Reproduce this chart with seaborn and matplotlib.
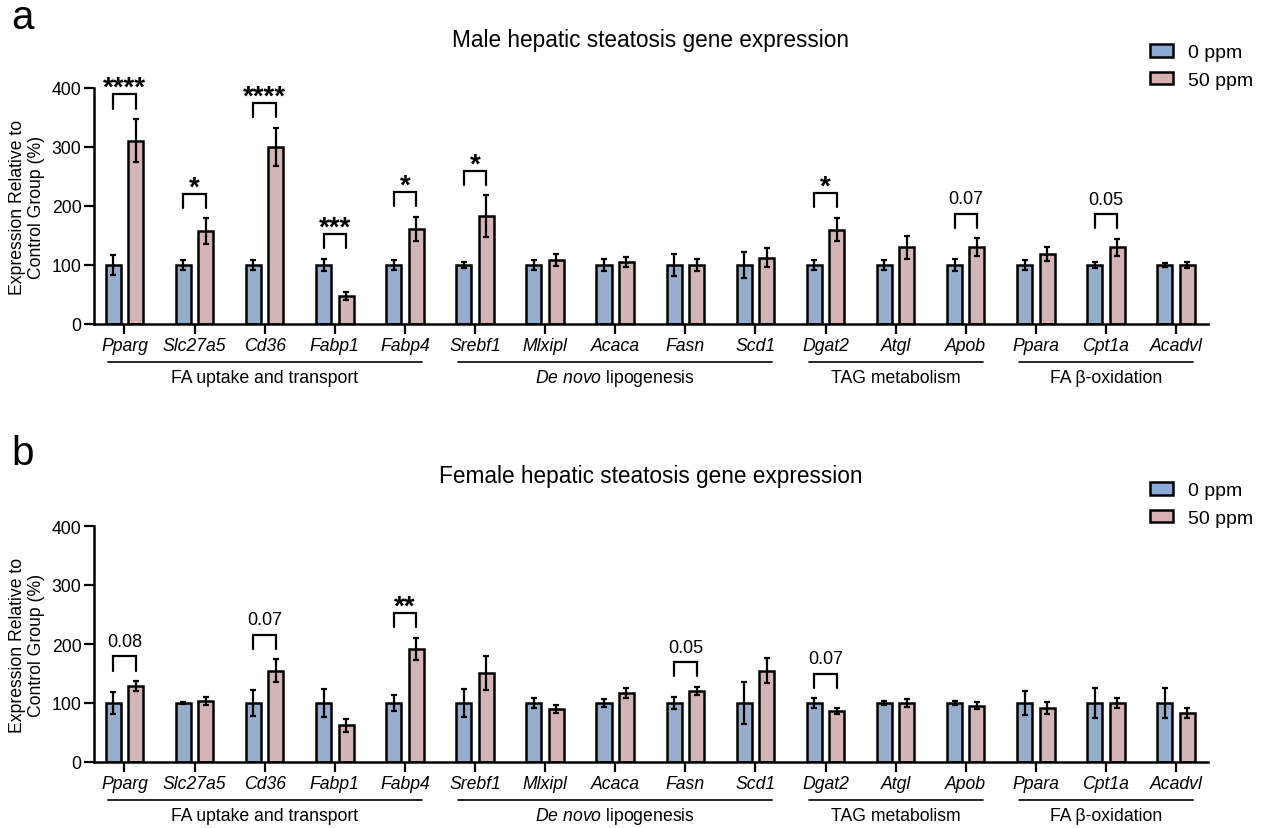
import numpy as np
import pandas as pd
import matplotlib
matplotlib.use("Agg")
import matplotlib.pyplot as plt
import matplotlib.transforms as mtransforms
from matplotlib.patches import Patch
import seaborn as sns

# Genes and pathway groups
genes = ['Pparg', 'Slc27a5', 'Cd36', 'Fabp1', 'Fabp4', 'Srebf1', 'Mlxipl', 'Acaca',
         'Fasn', 'Scd1', 'Dgat2', 'Atgl', 'Apob', 'Ppara', 'Cpt1a', 'Acadvl']
doses = ['0 ppm', '50 ppm']
group_names = ['FA uptake and transport', r'$\mathit{De\ novo}$ lipogenesis',
               'TAG metabolism', 'FA β-oxidation']
group_start = [0, 5, 10, 13]
group_end = [4, 9, 12, 15]

# Male (panel a), mean and SEM, % of control
male_ctrl = [100, 100, 100, 100, 100, 100, 100, 100, 100, 100, 100, 100, 100, 100, 100, 100]
male_ctrl_err = [17, 8, 9, 11, 9, 5, 8, 10, 18, 22, 9, 9, 10, 9, 5, 4]
male_trt = [311, 157, 300, 47, 161, 183, 108, 105, 100, 112, 160, 130, 130, 119, 130, 100]
male_trt_err = [36, 22, 33, 7, 21, 35, 10, 9, 10, 16, 20, 19, 15, 12, 14, 5]
male_sig_idx = [0, 1, 2, 3, 4, 5, 10, 12, 14]
male_sig_txt = ['****', '*', '****', '***', '*', '*', '*', '0.07', '0.05']

# Female (panel b)
female_ctrl = [100, 100, 100, 100, 100, 100, 100, 100, 100, 100, 100, 100, 100, 100, 100, 100]
female_ctrl_err = [19, 2, 22, 23, 13, 24, 9, 7, 10, 35, 8, 3, 4, 21, 25, 25]
female_trt = [129, 103, 155, 62, 192, 151, 90, 117, 120, 155, 86, 100, 95, 92, 100, 83]
female_trt_err = [8, 7, 19, 11, 19, 29, 7, 8, 7, 21, 5, 7, 6, 10, 9, 9]
female_sig_idx = [0, 2, 4, 8, 10]
female_sig_txt = ['0.08', '0.07', '**', '0.05', '0.07']

blue = '#8eabd5'
pink = '#d9b0b0'

sns.set_style('ticks')
plt.rcParams['font.family'] = ['Liberation Sans', 'DejaVu Sans']
plt.rcParams['mathtext.fontset'] = 'custom'
plt.rcParams['mathtext.rm'] = 'Liberation Sans'
plt.rcParams['mathtext.it'] = 'Liberation Sans:italic'
for key in ['text.color', 'axes.labelcolor', 'xtick.color', 'ytick.color', 'axes.edgecolor']:
    plt.rcParams[key] = 'black'

fig = plt.figure(figsize=(12.66, 8.29), dpi=100)
ax_a = fig.add_axes([94 / 1266, 1 - 325 / 829, 1114 / 1266, 236 / 829])
ax_b = fig.add_axes([94 / 1266, 1 - 763 / 829, 1114 / 1266, 236 / 829])


def draw_panel(ax, ctrl, ctrl_err, trt, trt_err, sig_idx, sig_txt):
    df = pd.DataFrame({
        'gene': genes * 2,
        'dose': [doses[0]] * len(genes) + [doses[1]] * len(genes),
        'value': ctrl + trt,
    })
    sns.barplot(data=df, x='gene', y='value', hue='dose', order=genes, hue_order=doses,
                palette=[blue, pink], width=0.64, gap=0.33, edgecolor='black',
                linewidth=1.8, errorbar=None, legend=False, ax=ax, zorder=2)

    # error bars at the bar centres
    centers = []
    for cont, errs in zip(ax.containers, [ctrl_err, trt_err]):
        xs = [b.get_x() + b.get_width() / 2 for b in cont]
        ys = [b.get_height() for b in cont]
        centers.append(xs)
        ax.errorbar(xs, ys, yerr=errs, fmt='none', ecolor='black', elinewidth=1.6,
                    capsize=2.5, capthick=1.6, zorder=3)

    # significance brackets
    for i, txt in zip(sig_idx, sig_txt):
        top = max(ctrl[i] + ctrl_err[i], trt[i] + trt_err[i]) + 42
        x0, x1 = centers[0][i], centers[1][i]
        ax.plot([x0, x0, x1, x1], [top - 24, top, top, top - 24], color='black',
                lw=1.6, clip_on=False, solid_joinstyle='miter')
        if '*' in txt:
            ax.text((x0 + x1) / 2, top - 1, txt, ha='center', va='baseline',
                    fontsize=20, fontweight='bold')
        else:
            ax.text((x0 + x1) / 2, top + 25, txt, ha='center', va='center', fontsize=13)

    ax.set_xlim(-0.435, 15.456)
    ax.set_ylim(0, 400)
    ax.set_yticks([0, 100, 200, 300, 400])
    ax.set_xlabel('')
    ax.set_ylabel('Expression Relative to\nControl Group (%)', fontsize=12.7, linespacing=1.15)
    ax.yaxis.set_label_coords(-0.044, 0.5)
    sns.despine(ax=ax)
    for s in ['left', 'bottom']:
        ax.spines[s].set_linewidth(1.8)
    ax.tick_params(axis='both', width=1.6, length=7.5, labelsize=12.7, color='black')
    ax.tick_params(axis='y', pad=1.5)
    ax.tick_params(axis='x', pad=2)
    for lab in ax.get_xticklabels():
        lab.set_fontstyle('italic')

    # pathway group lines and labels
    trans = mtransforms.blended_transform_factory(ax.transData, ax.transAxes)
    for name, g0, g1 in zip(group_names, group_start, group_end):
        ax.plot([g0 - 0.24, g1 + 0.24], [-0.161, -0.161], color='black', lw=1.2,
                transform=trans, clip_on=False)
        ax.text((g0 + g1) / 2, -0.225, name, transform=trans, ha='center', va='center',
                fontsize=12.7)


draw_panel(ax_a, male_ctrl, male_ctrl_err, male_trt, male_trt_err, male_sig_idx, male_sig_txt)
draw_panel(ax_b, female_ctrl, female_ctrl_err, female_trt, female_trt_err,
           female_sig_idx, female_sig_txt)

fig.text(651 / 1266, 1 - 40 / 829, 'Male hepatic steatosis gene expression',
         ha='center', va='center', fontsize=16.3)
fig.text(651 / 1266, 1 - 477 / 829, 'Female hepatic steatosis gene expression',
         ha='center', va='center', fontsize=16.3)
fig.text(11 / 1266, 1 - 18 / 829, 'a', ha='left', va='center', fontsize=29)
fig.text(11 / 1266, 1 - 454 / 829, 'b', ha='left', va='center', fontsize=29)

handles = [Patch(facecolor=blue, edgecolor='black', linewidth=1.8, label=doses[0]),
           Patch(facecolor=pink, edgecolor='black', linewidth=1.8, label=doses[1])]
for ytop in [45, 483]:
    fig.legend(handles=handles, loc='upper left', bbox_to_anchor=(1150 / 1266, 1 - ytop / 829),
               frameon=False, fontsize=14, borderpad=0, borderaxespad=0, handlelength=1.2,
               handleheight=0.62, handletextpad=0.75, labelspacing=0.55)

fig.savefig('out.png', dpi=100)
